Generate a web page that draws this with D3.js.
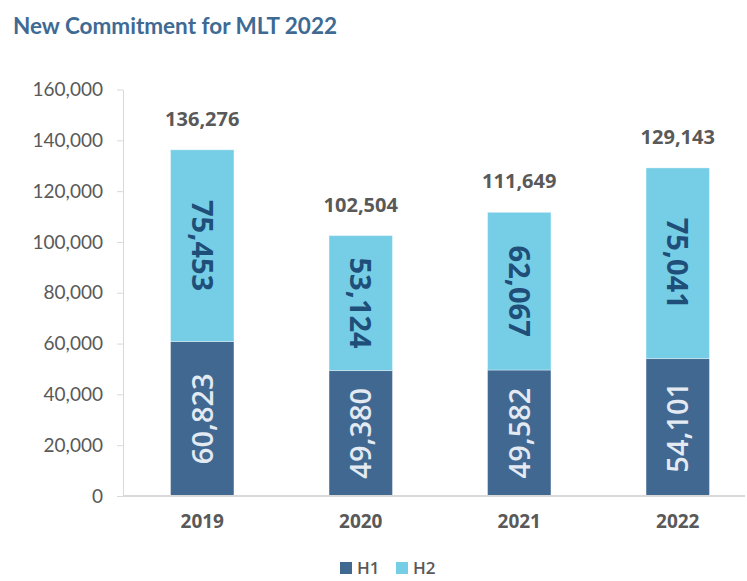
<!DOCTYPE html>
<html>
<head>
<meta charset="utf-8">
<script src="https://cdn.jsdelivr.net/npm/d3@7"></script>
<style>
	body { margin: 0; background: #fff; }
	svg { display: block; }
</style>
</head>
<body>
<div id="chart"></div>
<script>
// chart data
var years = ["2019", "2020", "2021", "2022"];
var h1Values = [60823, 49380, 49582, 54101];
var h2Values = [75453, 53124, 62067, 75041];
var totals = [136276, 102504, 111649, 129143];
var yTicks = [0, 20000, 40000, 60000, 80000, 100000, 120000, 140000, 160000];
var seriesNames = ["H1", "H2"];

var width = 747, height = 581;
var darkBlue = "#416891", lightBlue = "#75cee6";
var textGray = "#595959";

var svg = d3.select("#chart").append("svg")
	.attr("width", width)
	.attr("height", height);

//title
svg.append("text")
	.attr("x", 13)
	.attr("y", 34)
	.attr("font-family", "Lato")
	.attr("font-weight", "bold")
	.attr("font-size", "22.5px")
	.attr("fill", "#3e6a94")
	.text("New Commitment for MLT 2022");

var x = d3.scaleBand().domain(years).range([123, 757]).paddingInner(0.6).paddingOuter(0.3);
var y = d3.scaleLinear().domain([0, 160000]).range([496, 89.5]);
var fmt = d3.format(",");

// y axis
var yAxis = d3.axisLeft(y).tickValues(yTicks).tickFormat(fmt).tickSize(6).tickSizeOuter(0).tickPadding(14);
var yAxisGroup = svg.append("g").attr("transform", "translate(123,0)").call(yAxis);
yAxisGroup.select(".domain").attr("stroke", "#d9d9d9");
yAxisGroup.selectAll(".tick line").attr("stroke", "#d9d9d9");
yAxisGroup.selectAll(".tick text")
	.attr("font-family", "Lato")
	.attr("font-size", "19px")
	.attr("fill", textGray);

// stacked bars
var rows = years.map(function(d, i){ return {year: d, H1: h1Values[i], H2: h2Values[i], total: totals[i]}; });
var stack = d3.stack().keys(seriesNames)(rows);
var colors = {H1: darkBlue, H2: lightBlue};

var layers = svg.append("g").selectAll("g").data(stack).enter().append("g")
	.attr("fill", function(d){ return colors[d.key]; });
layers.selectAll("rect").data(function(d){ return d; }).enter().append("rect")
	.attr("x", function(d){ return x(d.data.year); })
	.attr("y", function(d){ return y(d[1]); })
	.attr("width", x.bandwidth())
	.attr("height", function(d){ return y(d[0]) - y(d[1]); })
	.attr("stroke", "#ffffff")
	.attr("stroke-opacity", 0.35)
	.attr("stroke-width", 1);

// x axis
var xAxis = d3.axisBottom(x).tickSize(0).tickPadding(19);
var xAxisGroup = svg.append("g").attr("transform", "translate(0,496)").call(xAxis);
xAxisGroup.select(".domain").attr("stroke", "#d9d9d9").attr("stroke-width", 2).attr("d", "M123,0H745");
xAxisGroup.selectAll(".tick text")
	.attr("font-family", "Open Sans")
	.attr("font-weight", "bold")
	.attr("font-size", "19px")
	.attr("fill", textGray);

// segment labels
stack.forEach(function(layer){
	svg.append("g").selectAll("text").data(layer).enter().append("text")
		.attr("transform", function(d){
			var cx = x(d.data.year) + x.bandwidth() / 2;
			var cy = (y(d[0]) + y(d[1])) / 2;
			return "translate(" + cx + "," + cy + ") rotate(" + (layer.key == "H1" ? -90 : 90) + ")";
		})
		.attr("text-anchor", "middle")
		.attr("dy", "0.36em")
		.attr("font-family", "Open Sans")
		.attr("font-weight", layer.key == "H1" ? 600 : "bold")
		.attr("font-size", "29px")
		.attr("fill", layer.key == "H1" ? "#e3eaf2" : "#1f4e79")
		.text(function(d){ return fmt(d[1] - d[0]); });
});

// totals
svg.append("g").selectAll("text").data(rows).enter().append("text")
	.attr("x", function(d){ return x(d.year) + x.bandwidth() / 2; })
	.attr("y", function(d){ return y(d.total) - 24; })
	.attr("text-anchor", "middle")
	.attr("font-family", "Open Sans")
	.attr("font-weight", "bold")
	.attr("font-size", "20px")
	.attr("fill", textGray)
	.text(function(d){ return fmt(d.total); });

// legend
var legend = svg.append("g").selectAll("g").data(seriesNames).enter().append("g")
	.attr("transform", function(d, i){ return "translate(" + (340 + i * 56) + ",562)"; });
legend.append("rect")
	.attr("width", 12).attr("height", 12)
	.attr("fill", function(d){ return colors[d]; });
legend.append("text")
	.attr("x", 17).attr("y", 12)
	.attr("font-family", "Open Sans")
	.attr("font-weight", 600)
	.attr("font-size", "17px")
	.attr("fill", textGray)
	.text(function(d){ return d; });
</script>
</body>
</html>
